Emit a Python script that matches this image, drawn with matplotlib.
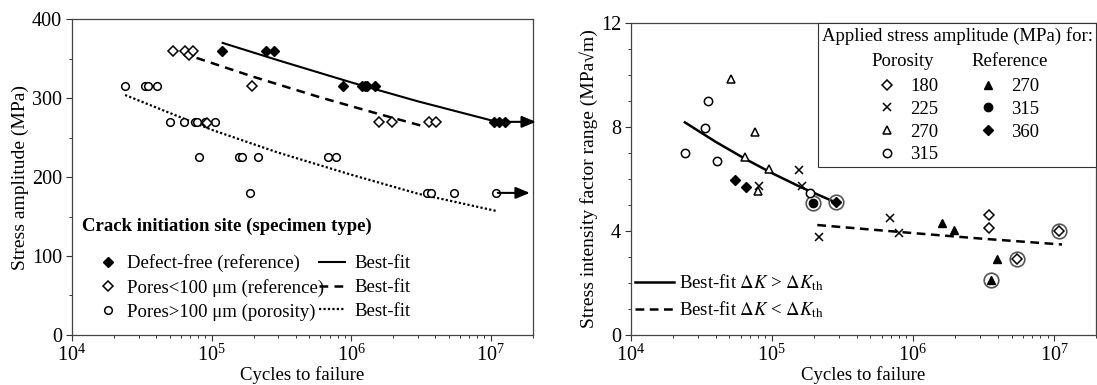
import matplotlib
matplotlib.use("Agg")
import matplotlib.pyplot as plt
from matplotlib.lines import Line2D
from matplotlib.legend_handler import HandlerBase
from matplotlib.text import Text
from matplotlib.ticker import MultipleLocator, LogLocator

plt.rcParams['font.family'] = ['Liberation Serif', 'DejaVu Serif']
plt.rcParams['mathtext.fontset'] = 'stix'
FS = 13.5
TFS = 14.5

# ---- left panel: S-N data ----
df_N = [1.19e5, 2.47e5, 2.82e5, 8.8e5, 1.2e6, 1.25e6, 1.3e6, 1.48e6, 1.06e7, 1.15e7, 1.26e7]
df_S = [360, 360, 360, 315, 315, 315, 315, 315, 270, 270, 270]
small_N = [5.3e4, 6.4e4, 6.9e4, 7.3e4, 9.2e4, 1.95e5, 1.59e6, 1.96e6, 3.62e6, 4.05e6]
small_S = [360, 360, 355, 360, 268, 315, 270, 270, 270, 270]
large_N = [2.39e4, 3.33e4, 3.51e4, 4.09e4, 5.0e4, 6.35e4, 7.6e4, 7.9e4, 9.0e4, 1.06e5,
           8.1e4, 1.56e5, 1.65e5, 2.15e5, 6.8e5, 7.8e5, 1.87e5, 3.47e6, 3.72e6, 5.47e6, 1.09e7]
large_S = [315, 315, 315, 315, 270, 270, 270, 270, 270, 270,
           225, 225, 225, 225, 225, 225, 180, 180, 180, 180, 180]

# best-fit curves
fit_df_N = [1.2e5, 3e5, 1e6, 3e6, 1e7]
fit_df_S = [370, 348, 320, 296, 272]
fit_small_N = [7.8e4, 2e5, 6e5, 1.5e6, 3.2e6]
fit_small_S = [351, 327, 301, 281, 265]
fit_large_N = [2.4e4, 1e5, 3e5, 1e6, 3e6, 1.1e7]
fit_large_S = [304, 260, 231, 203, 179, 157]

# run-outs (start, arrow tip, stress)
runout_start = [1.3e7, 1.12e7]
runout_end = [2.1e7, 1.9e7]
runout_S = [270, 180]

# ---- right panel: stress intensity factor range ----
por180_N = [3.48e6, 3.48e6, 5.48e6, 1.09e7]
por180_K = [4.61, 4.12, 2.91, 4.01]
por225_N = [8.1e4, 1.57e5, 1.64e5, 2.16e5, 6.9e5, 8.0e5]
por225_K = [5.72, 6.33, 5.72, 3.75, 4.49, 3.93]
por270_N = [5.1e4, 6.4e4, 7.6e4, 8.0e4, 9.5e4]
por270_K = [9.83, 6.86, 7.81, 5.55, 6.4]
por315_N = [2.44e4, 3.38e4, 3.53e4, 4.11e4, 1.87e5]
por315_K = [6.99, 7.95, 9.0, 6.7, 5.47]
ref270_N = [1.6e6, 1.97e6, 3.59e6, 3.95e6]
ref270_K = [4.31, 4.03, 2.11, 2.94]
ref315_N = [1.95e5]
ref315_K = [5.09]
ref360_N = [5.45e4, 6.6e4, 2.86e5]
ref360_K = [5.96, 5.7, 5.1]
ring_N = [1.95e5, 2.86e5, 3.59e6, 5.48e6, 1.09e7]
ring_K = [5.09, 5.1, 2.11, 2.91, 4.01]

fit_hi_N = [2.42e4, 4e4, 6.4e4, 1e5, 1.6e5, 2.7e5]
fit_hi_K = [8.18, 7.43, 6.79, 6.23, 5.69, 5.15]
fit_lo_N = [2.1e5, 1e6, 3e6, 1.14e7]
fit_lo_K = [4.23, 3.92, 3.71, 3.48]

MS = 5.5
MEW = 1.1


class HeaderHandler(HandlerBase):
    """Draws a column heading in place of a legend handle."""
    def __init__(self, text):
        super().__init__()
        self.text = text

    def create_artists(self, legend, orig_handle, xdescent, ydescent,
                       width, height, fontsize, trans):
        t = Text(-xdescent - 3, -ydescent + height / 2, self.text, fontsize=fontsize,
                 va='center', ha='left', transform=trans)
        return [t]


def style_axis(ax):
    ax.set_xscale('log')
    ax.set_xlim(1e4, 2e7)
    ax.xaxis.set_major_locator(LogLocator(base=10, numticks=10))
    ax.xaxis.set_minor_locator(LogLocator(base=10, subs=range(2, 10), numticks=20))
    ax.tick_params(which='both', direction='out', labelsize=TFS, color='#333')
    ax.tick_params(axis='x', pad=3)
    ax.tick_params(axis='y', pad=3)
    ax.tick_params(which='major', length=4, width=0.8)
    ax.tick_params(which='minor', length=2.5, width=0.7)
    for s in ax.spines.values():
        s.set_color('#444')
        s.set_linewidth(0.9)
    ax.set_xlabel('Cycles to failure', fontsize=FS, labelpad=0)


fig = plt.figure(figsize=(10.97, 3.85), dpi=100)
ax1 = fig.add_axes([0.0656, 0.130, 0.4202, 0.820])
ax2 = fig.add_axes([0.575, 0.130, 0.4245, 0.810])

# ---------- left ----------
ax1.plot(fit_df_N, fit_df_S, color='k', lw=1.5)
ax1.plot(fit_small_N, fit_small_S, color='k', lw=1.8, dashes=(3.5, 2.5))
ax1.plot(fit_large_N, fit_large_S, color='k', lw=1.6, linestyle=(0, (1, 1)))
for x0, x1, s in zip(runout_start, runout_end, runout_S):
    ax1.annotate('', xy=(x1, s), xytext=(x0, s), annotation_clip=False,
                 arrowprops=dict(arrowstyle='-|>,head_length=0.6,head_width=0.25',
                                 color='k', lw=1.5, mutation_scale=14,
                                 shrinkA=0, shrinkB=0))
ax1.plot(large_N, large_S, 'o', ms=MS, mfc='white', mec='k', mew=MEW, ls='none')
ax1.plot(small_N, small_S, 'D', ms=MS - 0.5, mfc='white', mec='k', mew=MEW, ls='none')
ax1.plot(df_N, df_S, 'D', ms=MS - 0.5, color='k', ls='none')

style_axis(ax1)
ax1.set_ylim(0, 400)
ax1.yaxis.set_major_locator(MultipleLocator(100))
ax1.yaxis.set_minor_locator(MultipleLocator(50))
ax1.set_ylabel('Stress amplitude (MPa)', fontsize=14, labelpad=2)

ax1.text(0.022, 0.343, 'Crack initiation site (specimen type)', transform=ax1.transAxes,
         fontsize=FS, fontweight='bold', va='center', ha='left')
hA = [Line2D([], [], marker='D', ms=MS - 0.5, color='k', ls='none'),
      Line2D([], [], marker='D', ms=MS - 0.5, mfc='white', mec='k', mew=MEW, ls='none'),
      Line2D([], [], marker='o', ms=MS, mfc='white', mec='k', mew=MEW, ls='none')]
legA = ax1.legend(hA, ['Defect-free (reference)', 'Pores<100 \u03bcm (reference)',
                       'Pores>100 \u03bcm (porosity)'],
                  loc='center left', bbox_to_anchor=(0.0577, 0.150), frameon=False,
                  fontsize=FS, borderpad=0, handlelength=1.0, handletextpad=0.5,
                  labelspacing=0.36, borderaxespad=0)
ax1.add_artist(legA)
hB = [Line2D([], [], color='k', lw=1.5),
      Line2D([], [], color='k', lw=1.8, dashes=(3.5, 2.5)),
      Line2D([], [], color='k', lw=1.6, linestyle=(0, (1, 1)))]
ax1.legend(hB, ['Best-fit'] * 3, loc='center left', bbox_to_anchor=(0.535, 0.150),
           frameon=False, fontsize=FS, borderpad=0, handlelength=1.4,
           handletextpad=0.5, labelspacing=0.36, borderaxespad=0)

# ---------- right ----------
ax2.plot(fit_hi_N, fit_hi_K, color='k', lw=1.8)
ax2.plot(fit_lo_N, fit_lo_K, color='k', lw=1.8, dashes=(3.5, 2.2))
ax2.plot(ring_N, ring_K, 'o', ms=10.5, mfc='none', mec='#555', mew=1.2, ls='none')
ax2.plot(por180_N, por180_K, 'D', ms=MS - 0.5, mfc='white', mec='k', mew=MEW, ls='none')
ax2.plot(por225_N, por225_K, 'x', ms=MS, color='k', mew=MEW, ls='none')
ax2.plot(por270_N, por270_K, '^', ms=MS + 0.5, mfc='white', mec='k', mew=MEW, ls='none')
ax2.plot(por315_N, por315_K, 'o', ms=MS + 0.5, mfc='white', mec='k', mew=MEW, ls='none')
ax2.plot(ref270_N, ref270_K, '^', ms=MS + 0.5, color='k', ls='none')
ax2.plot(ref315_N, ref315_K, 'o', ms=MS + 0.5, color='k', ls='none')
ax2.plot(ref360_N, ref360_K, 'D', ms=MS - 0.5, color='k', ls='none')

style_axis(ax2)
ax2.set_ylim(0, 12)
ax2.yaxis.set_major_locator(MultipleLocator(4))
ax2.yaxis.set_minor_locator(MultipleLocator(1))
ax2.set_ylabel('Stress intensity factor range (MPa\u221am)', fontsize=14, labelpad=2)

h_por = Line2D([], [], ls='none')
h_ref = Line2D([], [], ls='none')
h_blank = Line2D([], [], ls='none')
hR = [h_por,
      Line2D([], [], marker='D', ms=MS - 0.5, mfc='white', mec='k', mew=MEW, ls='none'),
      Line2D([], [], marker='x', ms=MS, color='k', mew=MEW, ls='none'),
      Line2D([], [], marker='^', ms=MS + 0.5, mfc='white', mec='k', mew=MEW, ls='none'),
      Line2D([], [], marker='o', ms=MS + 0.5, mfc='white', mec='k', mew=MEW, ls='none'),
      h_ref,
      Line2D([], [], marker='^', ms=MS + 0.5, color='k', ls='none'),
      Line2D([], [], marker='o', ms=MS + 0.5, color='k', ls='none'),
      Line2D([], [], marker='D', ms=MS - 0.5, color='k', ls='none'),
      h_blank]
labR = ['', '180', '225', '270', '315', '', '270', '315', '360', '']
legR = ax2.legend(hR, labR, ncol=2, loc='upper right', bbox_to_anchor=(1, 1),
                  borderaxespad=0, fontsize=FS, title='Applied stress amplitude (MPa) for:',
                  title_fontsize=FS, fancybox=False, edgecolor='#333', framealpha=1,
                  borderpad=0.2, handlelength=1.25, handletextpad=0.62,
                  columnspacing=2.0, labelspacing=0.3,
                  handler_map={h_por: HeaderHandler('Porosity'),
                               h_ref: HeaderHandler('Reference')})
legR.get_frame().set_linewidth(0.8)
legR._legend_box.sep = 7.5
ax2.add_artist(legR)

hK = [Line2D([], [], color='k', lw=1.8),
      Line2D([], [], color='k', lw=1.8, dashes=(3.5, 2.2))]
ax2.legend(hK, [r'Best-fit $\Delta K$ > $\Delta K_{\rm th}$',
                r'Best-fit $\Delta K$ < $\Delta K_{\rm th}$'],
           loc='center left', bbox_to_anchor=(0.009, 0.124), frameon=False,
           fontsize=FS, borderpad=0, handlelength=2.1, handletextpad=0.27,
           labelspacing=0.3, borderaxespad=0)

fig.savefig('out.png', dpi=100)
